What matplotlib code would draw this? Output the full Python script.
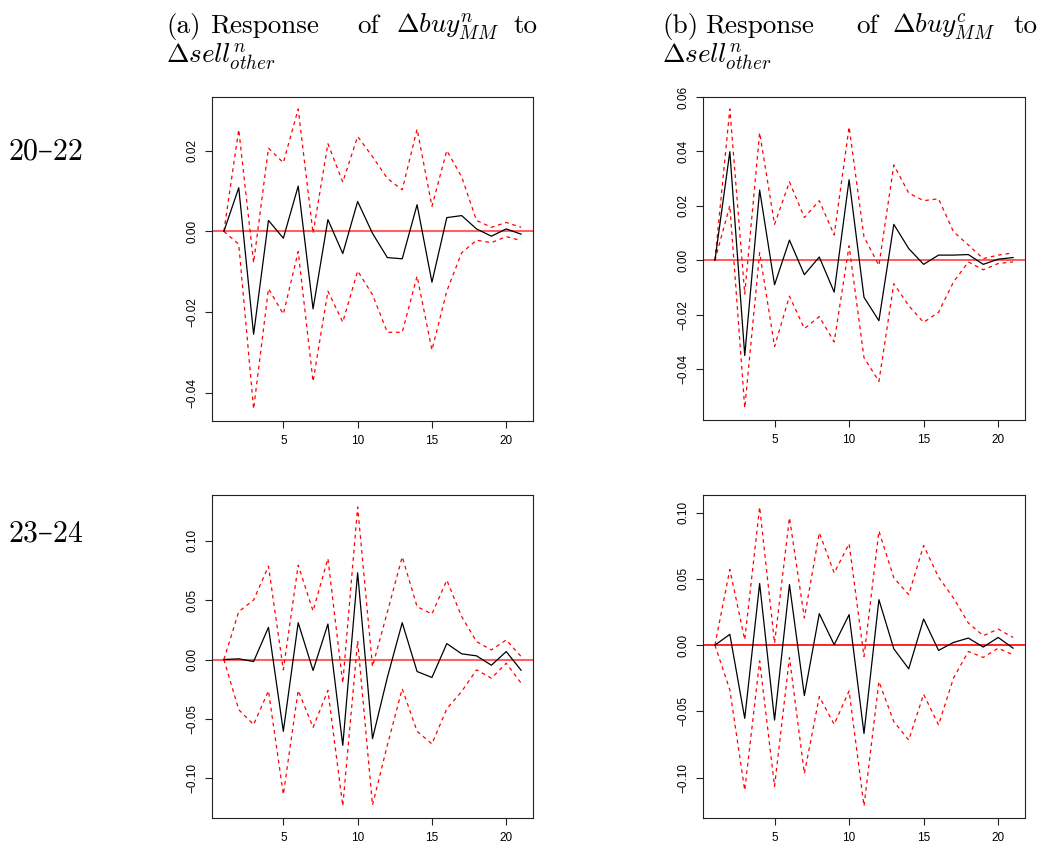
import numpy as np
import matplotlib
matplotlib.use("Agg")
import matplotlib.pyplot as plt

plt.rcParams['mathtext.fontset'] = 'cm'
plt.rcParams['font.family'] = ['Liberation Sans', 'DejaVu Sans']

steps = list(range(1, 22))

# (a) 20-22, response of buy^n_MM
a_irf = [0, 0.0108, -0.0255, 0.0027, -0.0017, 0.0112, -0.0192, 0.0029, -0.0055, 0.0074,
         -0.0005, -0.0065, -0.0068, 0.0066, -0.0126, 0.0034, 0.0039, 0.0006, -0.0012, 0.0006, -0.0007]
a_upper = [0, 0.0252, -0.0078, 0.0206, 0.0170, 0.0303, -0.0005, 0.0217, 0.0122, 0.0235,
           0.0185, 0.0131, 0.0103, 0.0253, 0.0062, 0.0200, 0.0135, 0.0027, 0.0010, 0.0022, 0.0010]
a_lower = [0, -0.0032, -0.0440, -0.0142, -0.0205, -0.0050, -0.0372, -0.0148, -0.0225, -0.0098,
           -0.0157, -0.0250, -0.0250, -0.0111, -0.0294, -0.0148, -0.0053, -0.0022, -0.0028, -0.0013, -0.0023]

# (b) 20-22, response of buy^c_MM
b_irf = [0, 0.0399, -0.0350, 0.0258, -0.0090, 0.0074, -0.0053, 0.0012, -0.0117, 0.0296,
         -0.0136, -0.0222, 0.0132, 0.0043, -0.0015, 0.0019, 0.0019, 0.0021, -0.0015, 0.0004, 0.0010]
b_upper = [0, 0.0556, -0.0124, 0.0469, 0.0132, 0.0288, 0.0157, 0.0219, 0.0093, 0.0490,
           0.0086, -0.0019, 0.0350, 0.0247, 0.0219, 0.0226, 0.0105, 0.0056, 0.0006, 0.0019, 0.0027]
b_lower = [0, 0.0201, -0.0543, 0.0028, -0.0317, -0.0132, -0.0251, -0.0207, -0.0300, 0.0053,
           -0.0358, -0.0445, -0.0086, -0.0167, -0.0228, -0.0191, -0.0080, -0.0006, -0.0035, -0.0012, -0.0006]

# (a) 23-24
c_irf = [0, 0.0006, -0.0017, 0.0271, -0.0604, 0.0310, -0.0092, 0.0299, -0.0722, 0.0730,
         -0.0666, -0.0150, 0.0310, -0.0101, -0.0151, 0.0134, 0.0048, 0.0031, -0.0048, 0.0067, -0.0090]
c_upper = [0, 0.0403, 0.0501, 0.0786, -0.0087, 0.0794, 0.0408, 0.0850, -0.0199, 0.1284,
           -0.0059, 0.0400, 0.0864, 0.0445, 0.0383, 0.0668, 0.0361, 0.0151, 0.0081, 0.0165, 0.0025]
c_lower = [0, -0.0422, -0.0548, -0.0263, -0.1136, -0.0260, -0.0571, -0.0260, -0.1233, 0.0157,
           -0.1225, -0.0720, -0.0246, -0.0604, -0.0710, -0.0414, -0.0269, -0.0087, -0.0157, -0.0031, -0.0199]

# (b) 23-24
d_irf = [0, 0.0081, -0.0553, 0.0465, -0.0566, 0.0457, -0.0381, 0.0237, 0.0003, 0.0230,
         -0.0667, 0.0343, -0.0028, -0.0179, 0.0197, -0.0040, 0.0020, 0.0053, -0.0015, 0.0058, -0.0023]
d_upper = [0, 0.0571, 0.0040, 0.1043, 0.0015, 0.0962, 0.0205, 0.0848, 0.0545, 0.0765,
           -0.0086, 0.0861, 0.0508, 0.0381, 0.0752, 0.0513, 0.0356, 0.0167, 0.0071, 0.0121, 0.0058]
d_lower = [0, -0.0338, -0.1096, -0.0119, -0.1066, -0.0093, -0.0970, -0.0389, -0.0598, -0.0346,
           -0.1215, -0.0275, -0.0578, -0.0717, -0.0371, -0.0603, -0.0250, -0.0048, -0.0093, -0.0023, -0.0073]

a_yticks = [-0.04, -0.02, 0.00, 0.02]
b_yticks = [-0.04, -0.02, 0.00, 0.02, 0.04, 0.06]
c_yticks = [-0.10, -0.05, 0.00, 0.05, 0.10]
d_yticks = [-0.10, -0.05, 0.00, 0.05, 0.10]
xticks = [5, 10, 15, 20]

W, H = 1046, 850
fig = plt.figure(figsize=(W / 100, H / 100), dpi=100)


def px_axes(l, t, r, b):
    return fig.add_axes([l / W, 1 - b / H, (r - l) / W, (b - t) / H])


def fmt(v):
    return ('%.2f' % v).replace('-', '\u2212')


def draw(ax, irf, up, lo, yticks, zcol, zlw):
    ax.axhline(0, color=zcol, lw=zlw, zorder=1)
    ax.plot(steps, up, color='red', lw=0.9, dashes=(3, 3), zorder=2)
    ax.plot(steps, lo, color='red', lw=0.9, dashes=(3, 3), zorder=2)
    ax.plot(steps, irf, color='black', lw=0.9, zorder=3)
    ax.margins(x=0.04, y=0.04)
    ax.set_xticks(xticks)
    ax.set_yticks(yticks)
    ax.set_yticklabels([fmt(v) for v in yticks], rotation=90, va='center')
    ax.tick_params(direction='out', length=5, width=0.8, labelsize=8.5, pad=5, color='#222222')
    for s in ax.spines.values():
        s.set_linewidth(0.8)
        s.set_color('#222222')


ax_a = px_axes(212, 97, 533, 421)
draw(ax_a, a_irf, a_upper, a_lower, a_yticks, '#ff6060', 1.5)
ax_b = px_axes(703, 97, 1025, 420)
draw(ax_b, b_irf, b_upper, b_lower, b_yticks, '#ff4040', 1.2)
ax_c = px_axes(212, 495, 533, 818)
draw(ax_c, c_irf, c_upper, c_lower, c_yticks, '#ff6060', 1.5)
ax_d = px_axes(703, 495, 1025, 818)
draw(ax_d, d_irf, d_upper, d_lower, d_yticks, 'red', 1.2)

serif = ['cmr10', 'DejaVu Serif']


def ftext(x, y, s, ha='left', fs=19.5):
    fig.text(x / W, 1 - y / H, s, ha=ha, va='baseline', fontsize=fs, family=serif)


# panel titles, justified like the LaTeX caption
ftext(166, 33, '(a)')
ftext(210, 33, 'Response')
ftext(357, 33, 'of')
ftext(396, 33, r'$\Delta buy^{n}_{MM}$')
ftext(537, 33, 'to', ha='right')
ftext(166, 63, r'$\Delta sell^{n}_{other}$')

ftext(662, 33, '(b)')
ftext(705, 33, 'Response')
ftext(856, 33, 'of')
ftext(892, 33, r'$\Delta buy^{c}_{MM}$')
ftext(1038, 33, 'to', ha='right')
ftext(662, 63, r'$\Delta sell^{n}_{other}$')

# row labels
ftext(9, 160, '20\u201322', fs=21.5)
ftext(9, 541, '23\u201324', fs=21.5)

fig.savefig('out.png', dpi=100)
